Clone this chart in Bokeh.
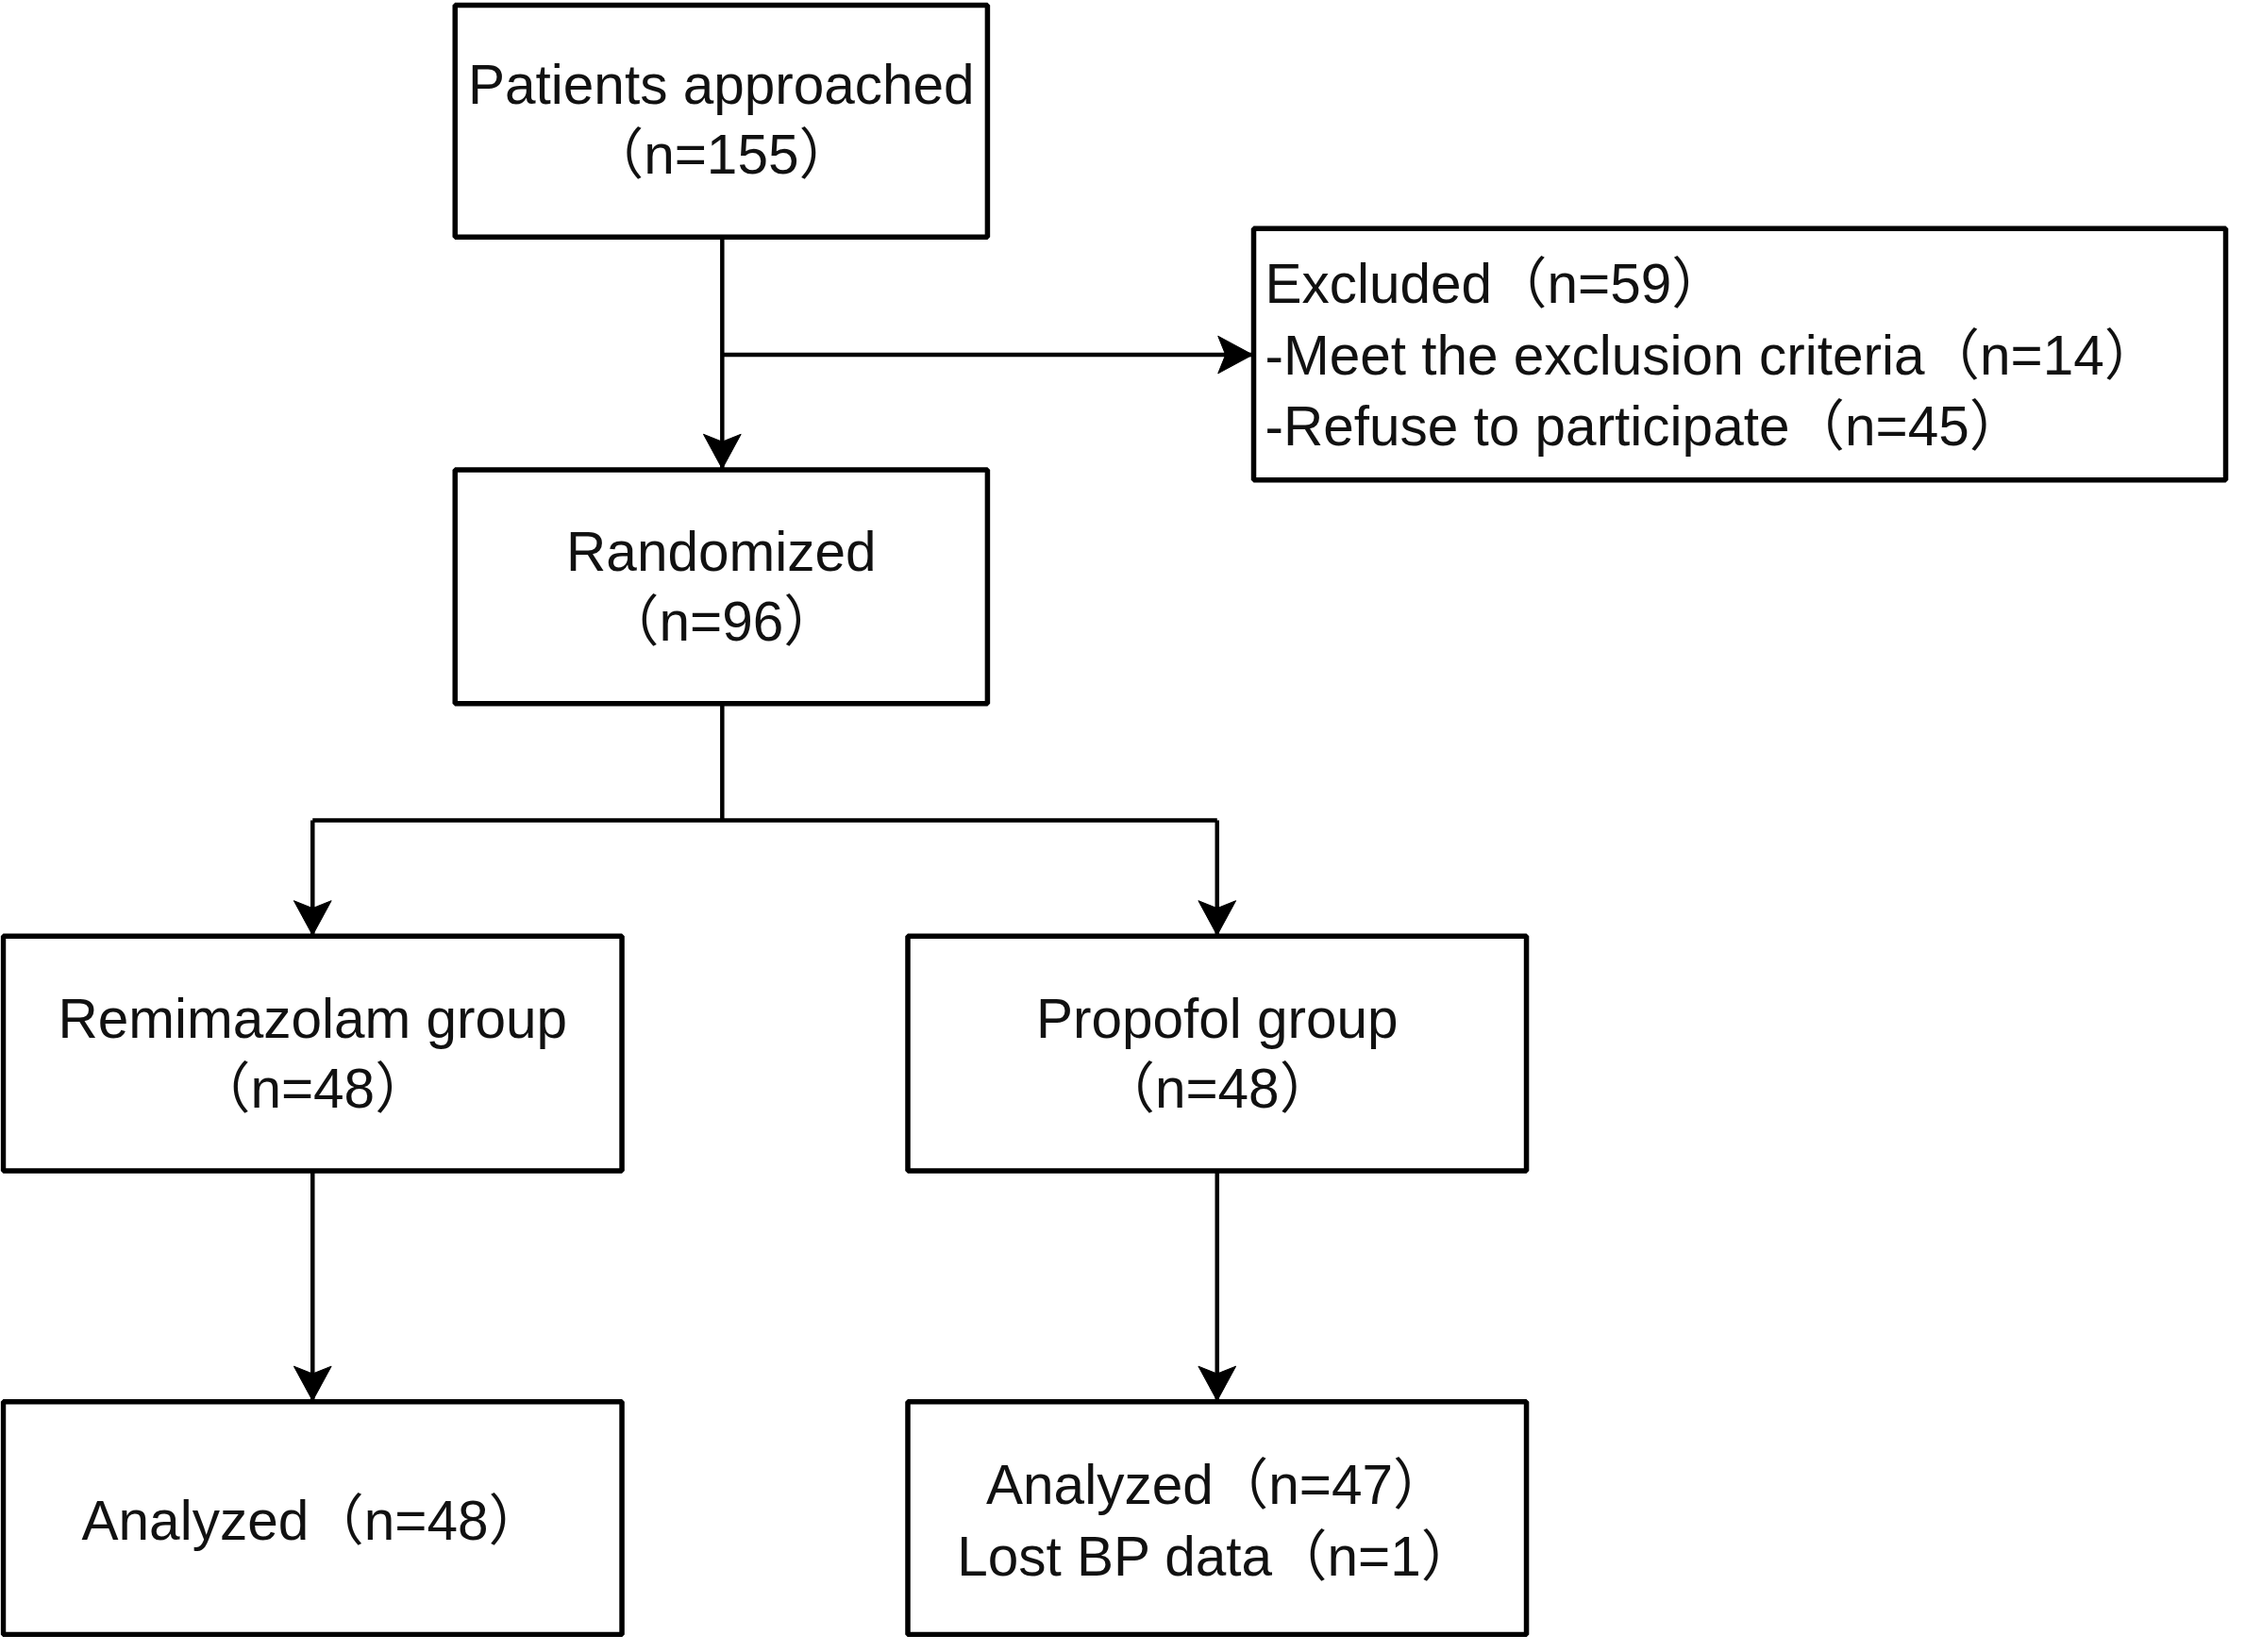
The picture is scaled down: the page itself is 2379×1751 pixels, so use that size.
from bokeh.plotting import figure
from bokeh.models import Range1d, ColumnDataSource
from bokeh.core.properties import value
from bokeh.embed import file_html
from bokeh.resources import INLINE

# ---- reference frame (pixels of the original figure) ----
REF_W, REF_H = 2379, 1751

# ---- boxes: patients approached, excluded, randomized, two groups, two analyzed ----
box_names  = ["approached", "excluded", "randomized", "remimazolam", "propofol",
              "analyzed_r", "analyzed_p"]
box_left   = [485, 1337, 485, 3, 968, 3, 968]
box_right  = [1053, 2374, 1053, 663, 1628, 663, 1628]
box_top    = [5, 244, 502, 1001, 1001, 1499, 1499]
box_bottom = [253, 513, 752, 1252, 1252, 1748, 1748]

# ---- counts ----
n_approached = 155
n_excluded = 59
n_criteria = 14
n_refused = 45
n_randomized = 96
n_remimazolam = 48
n_propofol = 48
n_analyzed_r = 48
n_analyzed_p = 47
n_lost = 1

# ---- centred text lines ----
center_text = ["Patients approached", f"（n={n_approached}）",
               "Randomized", f"（n={n_randomized}）",
               "Remimazolam group", f"（n={n_remimazolam}）",
               "Propofol group", f"（n={n_propofol}）",
               f"Analyzed（n={n_analyzed_r}）",
               f"Analyzed（n={n_analyzed_p}）", f"Lost BP data（n={n_lost}）"]
center_x = [769, 769, 769, 769, 333, 333, 1298, 1298, 333, 1298, 1298]
center_y = [90, 165, 589, 664, 1089, 1164, 1089, 1164, 1626, 1588, 1664]

# ---- left aligned text lines (excluded box) ----
left_text = [f"Excluded（n={n_excluded}）",
             f"-Meet the exclusion criteria（n={n_criteria}）",
             f"-Refuse to participate（n={n_refused}）"]
left_x = [1349, 1349, 1349]
left_y = [303, 379, 455]

# ---- connectors ----
seg_x0 = [770, 770, 770, 333, 333, 1298, 333, 1298]
seg_y0 = [253, 379, 752, 877, 877, 877, 1252, 1252]
seg_x1 = [770, 1337, 770, 1298, 333, 1298, 333, 1298]
seg_y1 = [502, 379, 877, 877, 1001, 1001, 1499, 1499]

# ---- arrow heads (tip position, direction) ----
tip_x = [770, 1336, 333, 1298, 333, 1298]
tip_y = [501, 379, 1000, 1000, 1498, 1498]
tip_dir = ["down", "right", "down", "down", "down", "down"]

HEAD_LEN, HEAD_HALF, HEAD_NOTCH = 37, 20, 8

def head_polygon(x, y, d):
    if d == "down":
        return ([x, x - HEAD_HALF, x, x + HEAD_HALF],
                [y, y - HEAD_LEN, y - HEAD_LEN + HEAD_NOTCH, y - HEAD_LEN])
    else:  # right
        return ([x, x - HEAD_LEN, x - HEAD_LEN + HEAD_NOTCH, x - HEAD_LEN],
                [y, y - HEAD_HALF, y, y + HEAD_HALF])

hx, hy = [], []
for x, y, d in zip(tip_x, tip_y, tip_dir):
    a, b = head_polygon(x, y, d)
    hx.append(a)
    hy.append(b)

FONT = value("Liberation Sans, Noto Sans CJK SC")
FS = "58.5px"

p = figure(width=2363, height=1735,
           x_range=Range1d(0, REF_W), y_range=Range1d(REF_H, 0),
           toolbar_location=None, output_backend="svg", min_border=0)
p.axis.visible = False
p.grid.visible = False
p.outline_line_color = None
p.background_fill_color = "white"
p.border_fill_color = "white"

p.segment(x0=seg_x0, y0=seg_y0, x1=seg_x1, y1=seg_y1,
          line_color="black", line_width=4.5)

box_src = ColumnDataSource(dict(name=box_names, left=box_left, right=box_right,
                                top=box_top, bottom=box_bottom))
p.quad(left="left", right="right", top="top", bottom="bottom", source=box_src,
       fill_color="white", line_color="black", line_width=5.5)

p.patches(xs=hx, ys=hy, fill_color="black", line_color="black", line_width=1)

p.text(x=center_x, y=center_y, text=center_text, text_align="center",
       text_baseline="alphabetic", text_font=FONT, text_font_size=FS,
       text_color="#111111")
p.text(x=left_x, y=left_y, text=left_text, text_align="left",
       text_baseline="alphabetic", text_font=FONT, text_font_size=FS,
       text_color="#111111")

open("out.html", "w").write(file_html(p, INLINE))
